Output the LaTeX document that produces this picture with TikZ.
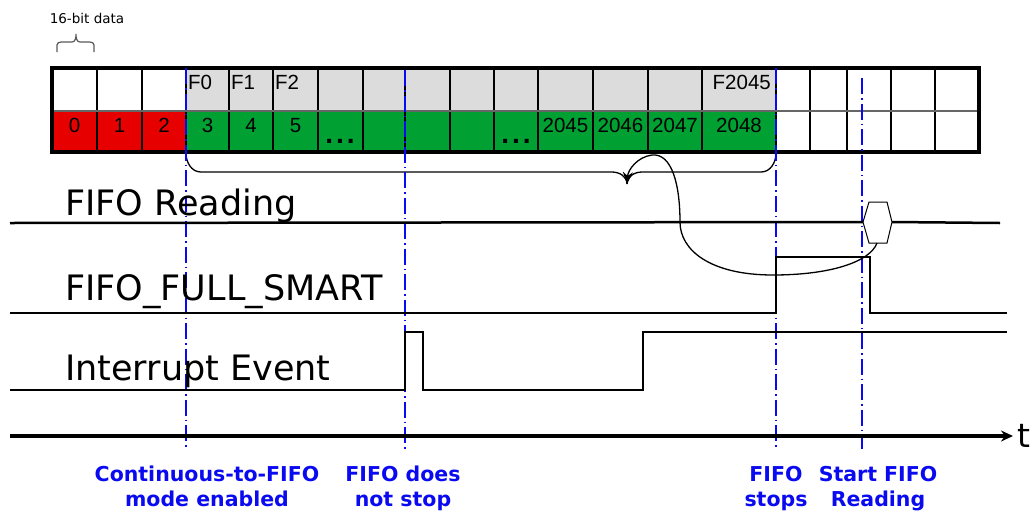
\documentclass[tikz,border=0pt]{standalone}
\usepackage{fontspec}
\setmainfont{DejaVu Sans}
\newfontfamily\arialf{Liberation Sans}
\usetikzlibrary{arrows.meta}
\definecolor{cred}{RGB}{230,0,0}
\definecolor{cgreen}{RGB}{0,160,50}
\definecolor{cgray}{RGB}{220,220,220}
\definecolor{cblue}{RGB}{10,10,240}
\begin{document}
\begin{tikzpicture}[x=1pt,y=-1pt,
 sig/.style={line width=2.8pt,line join=miter},
 marker/.style={cblue,line width=1.3pt,dash pattern=on 16pt off 4pt on 1.5pt off 4pt},
 cell/.style={font=\arialf\fontsize{20.5}{20}\selectfont,inner sep=0pt},
 dotcell/.style={font=\arialf\bfseries\fontsize{28}{28}\selectfont,inner sep=0pt,anchor=base},
 siglabel/.style={font=\fontsize{35}{35}\selectfont,anchor=base west,inner sep=0pt},
 evlabel/.style={font=\bfseries\fontsize{20.5}{25}\selectfont,text=cblue,align=center,anchor=north,inner sep=0pt}]
\useasboundingbox (0,0) rectangle (1031,512);

% 16-bit data brace
\node[font=\fontsize{13.5}{13.5}\selectfont,inner sep=0pt] (bitlab) at (87,18) {16-bit data};
\draw[black!65,line width=1.2pt] (57,52) -- (57,45) to[out=90,in=180] (61,42) -- (72,42) to[out=0,in=-90] (76,34)
  to[out=-90,in=180] (80,42) -- (90,42) to[out=0,in=90] (94,45) -- (94,52);

% grid fills
\fill[cgray] (186,68) rectangle (776,111);
\fill[cred] (52,111) rectangle (186,152);
\fill[cgreen] (186,111) rectangle (776,152);
\foreach \x in {97,142,186,229,273,318,363,405,450,494,538,593,648,702,776,810,847,891,935}
  \draw[line width=1.5pt] (\x,68) -- (\x,152);
\draw[line width=1.5pt,black!60] (52,111) -- (979,111);
\draw[line width=4pt] (52,68) rectangle (979,152);

% cell texts
\node[cell,anchor=north west] (f0) at (188,75) {F0};
\node[cell,anchor=north west] (f1) at (231,75) {F1};
\node[cell,anchor=north west] (f2) at (275,75) {F2};
\node[cell,anchor=north east] (f2045) at (771,75) {F2045};
\node[cell,anchor=north] (d0) at (74.5,118) {0};
\node[cell,anchor=north] (d1) at (119.5,118) {1};
\node[cell,anchor=north] (d2) at (164,118) {2};
\node[cell,anchor=north] (d3) at (207.5,118) {3};
\node[cell,anchor=north] (d4) at (251,118) {4};
\node[cell,anchor=north] (d5) at (295.5,118) {5};
\node[dotcell] (dots1) at (340,143) {.\hspace{3pt}.\hspace{3pt}.};
\node[dotcell] (dots2) at (516,143) {.\hspace{3pt}.\hspace{3pt}.};
\node[cell,anchor=north] (d2045) at (565.5,118) {2045};
\node[cell,anchor=north] (d2046) at (620.5,118) {2046};
\node[cell,anchor=north] (d2047) at (675,118) {2047};
\node[cell,anchor=north] (d2048) at (739,118) {2048};

% brace under grid
\coordinate (tip) at (627,184);
\draw[line width=1.3pt] (186,153) to[out=-90,in=180] (201,172) -- (612,172) to[out=0,in=90] (tip);
\draw[line width=1.3pt] (tip) to[out=90,in=180] (642,172) -- (761,172) to[out=0,in=-90] (776,153);

% blue time markers
\draw[marker] (186,68) -- (186,449);
\draw[marker] (405,70) -- (405,449);
\draw[marker] (776,68) -- (776,449);
\draw[marker] (862,78) -- (862,449);

% signal labels
\node[siglabel] (lread) at (65,215) {FIFO Reading};
\node[siglabel] (lfull) at (65,300) {FIFO\_FULL\_SMART};
\node[siglabel] (lint) at (65,380) {Interrupt Event};

% FIFO reading line with hexagon
\coordinate (hexL) at (863,222);
\coordinate (hexR) at (892,222);
\coordinate (hexB) at (877,243);
\draw[line width=2.5pt] (10,223) -- (hexL);
\draw[line width=2.5pt] (hexR) -- (1000,223);
\draw[line width=1pt,fill=white] (hexL) -- (869,202) -- (887,202) -- (hexR) -- (887,243) -- (869,243) -- cycle;

% FIFO_FULL_SMART
\draw[sig] (10,313) -- (776,313) -- (776,257) -- (870,257) -- (870,313) -- (1007,313);
% Interrupt
\draw[sig] (10,390) -- (405,390) -- (405,332) -- (423,332) -- (423,390) -- (643,390) -- (643,332) -- (1007,332);

% curved arrow
\draw[line width=1.3pt,-{Stealth[length=12pt,width=10pt]}] (hexB) .. controls (870,262) and (830,275) .. (773,275)
  .. controls (710,275) and (680,250) .. (680,222) .. controls (680,185) and (672,153) .. (652,155)
  .. controls (637,157) and (628,170) .. (tip);

% time axis
\draw[line width=3.5pt,-{Stealth[length=12pt,width=11pt]}] (10,436) -- (1013,436);
\node[font=\fontsize{33}{33}\selectfont,anchor=base west,inner sep=0pt] (tlab) at (1017,447) {t};

% event labels
\node[evlabel] (e1) at (207,466) {Continuous-to-FIFO\\mode enabled};
\node[evlabel] (e2) at (403,466) {FIFO does\\not stop};
\node[evlabel] (e3) at (776,466) {FIFO\\stops};
\node[evlabel] (e4) at (878,466) {Start FIFO\\Reading};
\end{tikzpicture}
\end{document}
